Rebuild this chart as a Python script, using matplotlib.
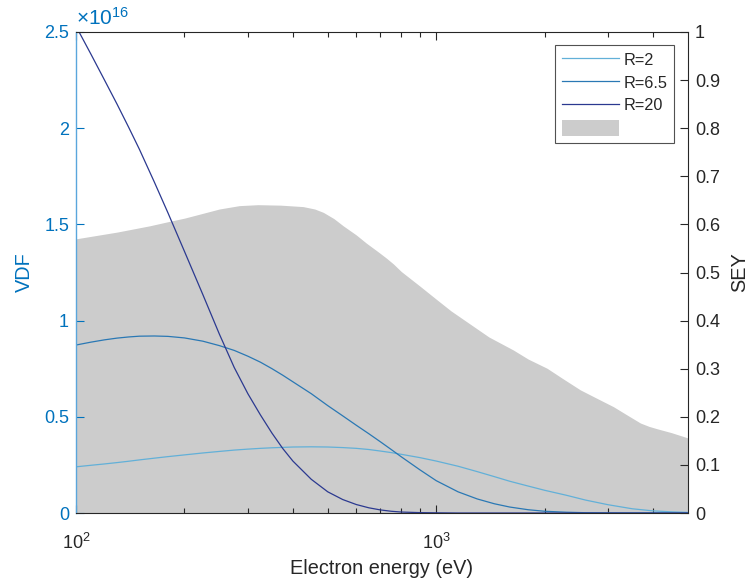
import matplotlib
matplotlib.use("Agg")
import matplotlib.pyplot as plt
from matplotlib.patches import Patch
from matplotlib.ticker import FixedLocator, NullFormatter, FixedFormatter

plt.rcParams['font.family'] = ['Liberation Sans', 'DejaVu Sans']
plt.rcParams['mathtext.fontset'] = 'custom'
plt.rcParams['mathtext.rm'] = 'Liberation Sans'
plt.rcParams['mathtext.it'] = 'Liberation Sans:italic'

# ---- data ----
sey_energy = [100, 130, 160, 181, 200, 225, 250, 284, 320, 370, 427, 460, 486, 520,
              552, 600, 640, 690, 727, 760, 800, 900, 1006, 1100, 1219, 1400, 1636,
              1800, 2030, 2250, 2512, 2800, 3105, 3400, 3690, 3900, 4110, 4500, 5000]
sey_values = [0.570, 0.584, 0.597, 0.606, 0.613, 0.623, 0.632, 0.639, 0.641, 0.640,
              0.637, 0.632, 0.625, 0.612, 0.597, 0.578, 0.561, 0.543, 0.530, 0.518,
              0.502, 0.472, 0.443, 0.420, 0.397, 0.366, 0.339, 0.320, 0.301, 0.279,
              0.256, 0.238, 0.221, 0.203, 0.187, 0.180, 0.175, 0.167, 0.156]

vdf_energy = [100, 110, 120, 130, 140, 150, 165, 180, 200, 225, 250, 275, 300, 325,
              350, 375, 400, 450, 500, 550, 600, 650, 700, 750, 800, 900, 1000, 1150,
              1300, 1450, 1600, 1800, 2000, 2300, 2600, 3000, 3500, 4000, 4500, 5000]
vdf_r2 = [0.240, 0.248, 0.255, 0.262, 0.269, 0.276, 0.285, 0.293, 0.302, 0.312, 0.320,
          0.327, 0.332, 0.336, 0.339, 0.341, 0.343, 0.344, 0.343, 0.340, 0.336, 0.330,
          0.322, 0.314, 0.305, 0.288, 0.270, 0.243, 0.215, 0.189, 0.165, 0.140, 0.118,
          0.092, 0.067, 0.043, 0.022, 0.011, 0.006, 0.003]
vdf_r65 = [0.873, 0.888, 0.900, 0.909, 0.915, 0.919, 0.920, 0.918, 0.910, 0.893, 0.870,
           0.845, 0.815, 0.784, 0.750, 0.716, 0.682, 0.620, 0.558, 0.505, 0.456, 0.412,
           0.370, 0.330, 0.292, 0.225, 0.168, 0.110, 0.073, 0.048, 0.031, 0.017, 0.009,
           0.004, 0.0015, 0.0005, 0.0, 0.0, 0.0, 0.0]
vdf_r20 = [2.53, 2.385, 2.25, 2.125, 2.005, 1.89, 1.72, 1.56, 1.36, 1.135, 0.93, 0.756,
           0.62, 0.51, 0.415, 0.335, 0.27, 0.175, 0.11, 0.07, 0.044, 0.027, 0.016,
           0.009, 0.005, 0.002, 0.001, 0.0, 0.0, 0.0, 0.0, 0.0, 0.0, 0.0, 0.0, 0.0,
           0.0, 0.0, 0.0, 0.0]

series_labels = ['R=2', 'R=6.5', 'R=20']
series_colors = ['#62b0d8', '#2a78b4', '#2b3990']

left_ticks = [0, 0.5, 1, 1.5, 2, 2.5]
left_ticklabels = ['0', '0.5', '1', '1.5', '2', '2.5']
right_ticks = [0, 0.1, 0.2, 0.3, 0.4, 0.5, 0.6, 0.7, 0.8, 0.9, 1.0]
right_ticklabels = ['0', '0.1', '0.2', '0.3', '0.4', '0.5', '0.6', '0.7', '0.8', '0.9', '1']

blue = '#0072BD'
dark = '#262626'

fig = plt.figure(figsize=(7.51, 5.85), dpi=100)
ax = fig.add_axes([76/751, 1 - 513/585, (688-76)/751, (513-32)/585])
ax2 = ax.twinx()

# SEY fill on right axis (behind)
ax2.fill_between(sey_energy, 0, sey_values, color='#cccccc', linewidth=0)
ax2.set_ylim(0, 1)
ax2.set_yticks(right_ticks)
ax2.set_yticklabels(right_ticklabels)
ax2.set_ylabel('SEY', fontsize=14.3, color=dark, labelpad=7)

ax.set_zorder(ax2.get_zorder() + 1)
ax.patch.set_visible(False)

handles = []
for vals, lab, col in zip([vdf_r2, vdf_r65, vdf_r20], series_labels, series_colors):
    h, = ax.plot(vdf_energy, vals, color=col, lw=0.9, label=lab)
    handles.append(h)

ax.set_xscale('log')
ax.set_xlim(100, 5000)
ax.set_ylim(0, 2.5)
ax.set_yticks(left_ticks)
ax.set_yticklabels(left_ticklabels)
ax.xaxis.set_major_locator(FixedLocator([100, 1000]))
ax.xaxis.set_major_formatter(FixedFormatter([r'$\mathdefault{10^{2}}$', r'$\mathdefault{10^{3}}$']))
ax.xaxis.set_minor_locator(FixedLocator([200, 300, 400, 500, 600, 700, 800, 900,
                                         2000, 3000, 4000]))
ax.xaxis.set_minor_formatter(NullFormatter())

ax.set_xlabel('Electron energy (eV)', fontsize=14.3, color=dark, labelpad=5)
ax.set_ylabel('VDF', fontsize=14.3, color=blue, labelpad=7)

ax.tick_params(axis='x', which='both', direction='in', top=True, bottom=True,
               labelsize=13, colors=dark, pad=14)
ax.tick_params(axis='x', which='major', length=6, width=0.8)
ax.tick_params(axis='x', which='minor', length=3.5, width=0.8)
ax.tick_params(axis='y', which='both', direction='in', left=True, right=False,
               labelsize=13, colors=blue, length=6, width=0.8, pad=5)
ax2.tick_params(axis='y', which='both', direction='in', right=True, left=False,
                labelsize=13, colors=dark, length=6, width=0.8, pad=5)

for sp in ['top', 'bottom']:
    ax.spines[sp].set_color(dark)
    ax.spines[sp].set_linewidth(0.8)
ax.spines['left'].set_color('#5aa6dc')
ax.spines['left'].set_linewidth(1.0)
ax.spines['right'].set_visible(False)
ax2.spines['right'].set_color(dark)
ax2.spines['right'].set_linewidth(0.8)
for sp in ['top', 'bottom', 'left']:
    ax2.spines[sp].set_visible(False)

# offset exponent label
ax.text(0.0, 1.006, r'$\times\mathdefault{10^{16}}$', transform=ax.transAxes,
        color=blue, fontsize=15, ha='left', va='bottom')

patch = Patch(facecolor='#cccccc', edgecolor='none')
leg = ax.legend(handles + [patch], series_labels + [''], loc='upper right',
                bbox_to_anchor=(0.977, 0.973), fontsize=11.7, frameon=True,
                fancybox=False, edgecolor='#262626', handlelength=3.5,
                handleheight=1.1, handletextpad=0.3, labelspacing=0.4,
                borderpad=0.4, borderaxespad=0)
leg.get_frame().set_linewidth(0.8)
for t in leg.get_texts():
    t.set_color(dark)

fig.savefig('out.png', dpi=100)
